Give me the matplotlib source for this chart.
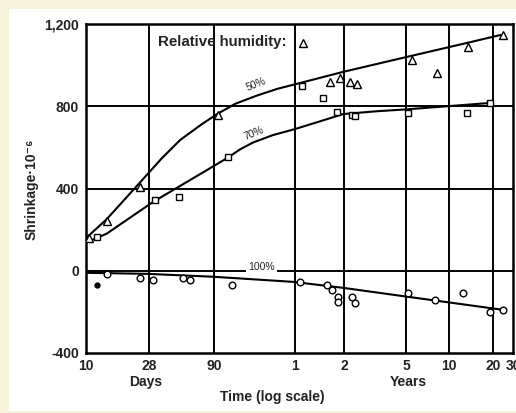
import numpy as np
import matplotlib
matplotlib.use("Agg")
import matplotlib.pyplot as plt
from matplotlib.patches import Rectangle

plt.rcParams['font.family'] = ['Liberation Sans', 'DejaVu Sans']

# ---------------- data (time in days, shrinkage in 1e-6) ----------------
curve50_days = [10.2, 14, 24, 35, 49, 72, 95, 130, 189, 270, 392, 719, 1853, 4850, 8410]
curve50_vals = [164, 250, 427, 545, 636, 712, 762, 812, 852, 885, 913, 967, 1040, 1108, 1146]

curve70_days = [10.2, 14, 30, 60, 113, 141, 177, 250, 365, 600, 719, 1200, 1853, 6950]
curve70_vals = [140, 180, 334, 445, 548, 590, 624, 660, 689, 742, 762, 776, 785, 816]

curve100_days = [10.2, 27, 88, 352, 719, 1853, 8930]
curve100_vals = [-10, -15, -29, -54, -83, -126, -190]

tri_days = [10.5, 14, 24, 96, 409, 599, 689, 797, 883, 2010, 3006, 4925, 8930]
tri_vals = [159, 242, 407, 757, 1108, 918, 937, 918, 908, 1025, 962, 1088, 1146]

sq_days = [12, 31, 48, 115, 403, 542, 661, 820, 857, 1884, 4850, 6950]
sq_vals = [164, 344, 359, 553, 898, 840, 772, 757, 752, 767, 767, 816]

circ_days = [14, 24, 30, 52, 58, 122, 392, 574, 616, 670, 670, 820, 857, 1884, 2911, 4550, 6950, 8930]
circ_vals = [-15, -34, -44, -34, -44, -68, -54, -68, -92, -126, -151, -126, -156, -107, -141, -107, -199, -190]

dot_days = [12]
dot_vals = [-68]

y_ticks = [-400, 0, 400, 800, 1200]
y_ticklabels = ['-400', '0', '400', '800', '1,200']
x_tick_days = [10, 28, 90, 365, 730, 1825, 3650, 7300, 10950]
x_ticklabels = ['10', '28', '90', '1', '2', '5', '10', '20', '30']
grid_x_days = [28, 90, 365, 730, 1825, 3650, 7300]
grid_y_vals = [0, 400, 800]

# ---------------- scale (hand-drawn log axis) ----------------
knot_log = np.log10(np.array(x_tick_days, dtype=float))
knot_pos = np.array([86, 149, 214, 295, 344, 406, 449, 493, 513], dtype=float)

def fwd(d):
    d = np.clip(np.asarray(d, dtype=float), 1e-9, None)
    return np.interp(np.log10(d), knot_log, knot_pos)

def inv(p):
    p = np.asarray(p, dtype=float)
    return 10 ** np.interp(p, knot_pos, knot_log)

W, H = 516, 413
fig = plt.figure(figsize=(W / 100, H / 100), dpi=100)
fig.patch.set_facecolor('#f6f2de')
fig.add_artist(Rectangle((9 / W, 1 - 411 / H), (W - 9) / W, (411 - 9) / H,
                         transform=fig.transFigure, facecolor='white', edgecolor='none', zorder=0))

ax = fig.add_axes([86 / W, 1 - 353 / H, (513 - 86) / W, (353 - 24) / H])
ax.set_xscale('function', functions=(fwd, inv))
ax.set_xlim(10, 10950)
ax.set_ylim(-400, 1200)
ax.set_facecolor('white')

for s in ax.spines.values():
    s.set_linewidth(1.8)

for g in grid_x_days:
    ax.axvline(g, color='black', lw=1.4, zorder=1)
for g in grid_y_vals:
    ax.axhline(g, color='black', lw=1.4, zorder=1)

ax.plot(curve50_days, curve50_vals, color='black', lw=1.5, zorder=3)
ax.plot(curve70_days, curve70_vals, color='black', lw=1.5, zorder=3)
ax.plot(curve100_days, curve100_vals, color='black', lw=1.5, zorder=3)

mk = dict(ls='none', mfc='white', mec='black', mew=1.0, ms=5.5, zorder=4)
ax.plot(tri_days, tri_vals, marker='^', **mk)
ax.plot(sq_days, sq_vals, marker='s', **dict(mk, ms=5))
ax.plot(circ_days, circ_vals, marker='o', **dict(mk, ms=4.8))
ax.plot(dot_days, dot_vals, marker='o', ls='none', color='black', ms=3.5, zorder=4)

ax.set_xticks(x_tick_days)
ax.set_xticklabels(x_ticklabels)
ax.set_yticks(y_ticks)
ax.set_yticklabels(y_ticklabels)
ax.xaxis.set_minor_locator(matplotlib.ticker.NullLocator())
ax.tick_params(axis='both', length=0, labelsize=10, colors='black')
ax.tick_params(axis='x', pad=4)
ax.tick_params(axis='y', pad=5)
for lab in ax.get_xticklabels() + ax.get_yticklabels():
    lab.set_fontweight('bold')
    lab.set_color('#222222')

ax.text(0.168, 0.945, 'Relative humidity:', transform=ax.transAxes, fontsize=10.8,
        fontweight='bold', color='#222222', va='center', ha='left', zorder=5)
ax.text(185, 905, '50%', fontsize=7.5, rotation=22, ha='center', va='center',
        color='#222222', zorder=5)
ax.text(180, 668, '70%', fontsize=7.5, rotation=22, ha='center', va='center',
        color='#222222', zorder=5)
ax.text(205, 18, '100%', fontsize=7.5, ha='center', va='center', color='#222222', zorder=5,
        bbox=dict(facecolor='white', edgecolor='none', pad=1.5))

fig.text(146 / W, 1 - 382 / H, 'Days', ha='center', va='center', fontsize=10,
         fontweight='bold', color='#222222')
fig.text(408 / W, 1 - 382 / H, 'Years', ha='center', va='center', fontsize=10,
         fontweight='bold', color='#222222')
fig.text(272 / W, 1 - 397 / H, 'Time (log scale)', ha='center', va='center', fontsize=10,
         fontweight='bold', color='#222222')
fig.text(32 / W, 1 - 189 / H, 'Shrinkage·10⁻⁶', ha='center', va='center', fontsize=10,
         fontweight='bold', color='#222222', rotation=90)

fig.savefig('out.png', dpi=100, facecolor=fig.get_facecolor())
